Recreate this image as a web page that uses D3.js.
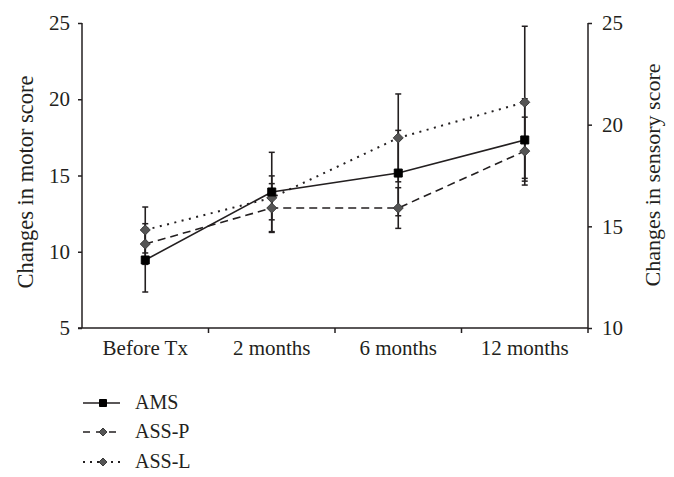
<!DOCTYPE html>
<html>
<head>
<meta charset="utf-8">
<script src="https://cdn.jsdelivr.net/npm/d3@7"></script>
<style>
  html, body { margin: 0; padding: 0; background: #fff; }
  svg { display: block; }
  text { font-family: "Liberation Serif", "Times New Roman", serif; fill: #231f20; }
</style>
</head>
<body>
<script>
const categories = ["Before Tx", "2 months", "6 months", "12 months"];
const amsValues  = [9.46, 13.92, 15.16, 17.33];
const amsErrors  = [2.1, 2.6, 2.8, 2.7];
const asspValues = [14.13, 15.9, 15.9, 18.7];
const asspErrors = [1.0, 1.2, 1.0, 1.67];
const asslValues = [14.82, 16.4, 19.35, 21.1];
const asslErrors = [1.13, 1.08, 2.16, 3.74];
const leftTicks  = [5, 10, 15, 20, 25];
const rightTicks = [10, 15, 20, 25];
const seriesNames = ["AMS", "ASS-P", "ASS-L"];

const W = 674, H = 477;
const svg = d3.select("body").append("svg").attr("width", W).attr("height", H);

const x = d3.scaleBand().domain(categories).range([82, 588]).padding(0);
const yL = d3.scaleLinear().domain([5, 25]).range([328, 23]);
const yR = d3.scaleLinear().domain([10, 25]).range([328, 23]);
const cx = c => x(c) + x.bandwidth() / 2;

const series = [
  { name: "AMS",   values: amsValues,  errors: amsErrors,  y: yL, dash: null,  marker: "square" },
  { name: "ASS-P", values: asspValues, errors: asspErrors, y: yR, dash: "8,5", marker: "diamond" },
  { name: "ASS-L", values: asslValues, errors: asslErrors, y: yR, dash: "2,5.5", marker: "diamond" }
];

// Axes
const fs = 21;
const gL = svg.append("g").attr("transform", "translate(82,0)")
  .call(d3.axisLeft(yL).tickValues(leftTicks).tickSize(4).tickPadding(8).tickFormat(d3.format("d")));
const gR = svg.append("g").attr("transform", "translate(588,0)")
  .call(d3.axisRight(yR).tickValues(rightTicks).tickSize(4).tickPadding(10).tickFormat(d3.format("d")));
const gB = svg.append("g").attr("transform", "translate(0,328)")
  .call(d3.axisBottom(x).tickSize(0).tickPadding(12));
[gL, gR, gB].forEach(g => {
  g.select(".domain").attr("stroke", "#231f20").attr("stroke-width", 1.5);
  g.selectAll(".tick line").attr("stroke", "#231f20").attr("stroke-width", 1.5);
  g.selectAll(".tick text").style("font-size", fs + "px").attr("fill", "#231f20")
    .style("font-family", '"Liberation Serif", "Times New Roman", serif');
});
gL.select(".domain").attr("d", "M0,23V328");
gR.select(".domain").attr("d", "M0,23V328");
gB.select(".domain").attr("d", "M82,0H588");
// boundary ticks on x axis
svg.append("g").selectAll("line").data(categories.slice(1).concat([null]))
  .enter().append("line")
  .attr("x1", d => d ? x(d) : x.range()[1]).attr("x2", d => d ? x(d) : x.range()[1])
  .attr("y1", 328).attr("y2", 333)
  .attr("stroke", "#231f20").attr("stroke-width", 1.5);
svg.append("line").attr("x1", 78).attr("x2", 82).attr("y1", 328).attr("y2", 328)
  .attr("stroke", "#231f20").attr("stroke-width", 1.5);

// Axis titles
svg.append("text").attr("transform", "translate(33,182) rotate(-90)")
  .attr("text-anchor", "middle").style("font-size", "22.5px").text("Changes in motor score");
svg.append("text").attr("transform", "translate(660,175) rotate(-90)")
  .attr("text-anchor", "middle").style("font-size", "22px").text("Changes in sensory score");

const markerPath = (type, size) => type === "square"
  ? d3.symbol().type(d3.symbolSquare).size(size * size)()
  : `M0,${-size/2}L${size/2},0L0,${size/2}L${-size/2},0Z`;

// Error bars
const eb = svg.append("g");
series.forEach(s => {
  categories.forEach((c, i) => {
    const xc = cx(c), top = s.y(s.values[i] + s.errors[i]), bot = s.y(s.values[i] - s.errors[i]);
    eb.append("line").attr("x1", xc).attr("x2", xc).attr("y1", top).attr("y2", bot)
      .attr("stroke", "#231f20").attr("stroke-width", 1.6);
    [top, bot].forEach(yy => eb.append("line").attr("x1", xc - 3).attr("x2", xc + 3)
      .attr("y1", yy).attr("y2", yy).attr("stroke", "#231f20").attr("stroke-width", 1.5));
  });
});

// Lines
series.forEach(s => {
  const line = d3.line().x((d, i) => cx(categories[i])).y(d => s.y(d));
  svg.append("path").datum(s.values).attr("d", line).attr("fill", "none")
    .attr("stroke", "#231f20").attr("stroke-width", s.dash === "2,5.5" ? 2 : 1.6)
    .attr("stroke-dasharray", s.dash);
});

// Markers
series.slice().reverse().forEach(s => {
  svg.append("g").selectAll("path").data(s.values).enter().append("path")
    .attr("transform", (d, i) => `translate(${cx(categories[i])},${s.y(d)})`)
    .attr("d", markerPath(s.marker, s.marker === "square" ? 8 : 10))
    .attr("fill", s.marker === "square" ? "#000" : "#555")
    .attr("stroke", s.marker === "square" ? "#000" : "#3a3a3a").attr("stroke-width", 1);
});

// Legend
const legY = [403, 432, 462];
series.forEach((s, i) => {
  const g = svg.append("g").attr("transform", `translate(0,${legY[i]})`);
  g.append("line").attr("x1", 83).attr("x2", 120).attr("y1", 0).attr("y2", 0)
    .attr("stroke", "#231f20").attr("stroke-width", s.dash === "2,5.5" ? 2 : 1.6)
    .attr("stroke-dasharray", s.dash === "8,5" ? "7,6" : s.dash === "2,5.5" ? "2,5" : null);
  g.append("path").attr("transform", "translate(103,0)")
    .attr("d", markerPath(s.marker, s.marker === "square" ? 7 : 8))
    .attr("fill", s.marker === "square" ? "#000" : "#555")
    .attr("stroke", s.marker === "square" ? "#000" : "#3a3a3a");
  g.append("text").attr("x", 135).attr("y", 6).style("font-size", "20px").text(seriesNames[i]);
});
</script>
</body>
</html>
